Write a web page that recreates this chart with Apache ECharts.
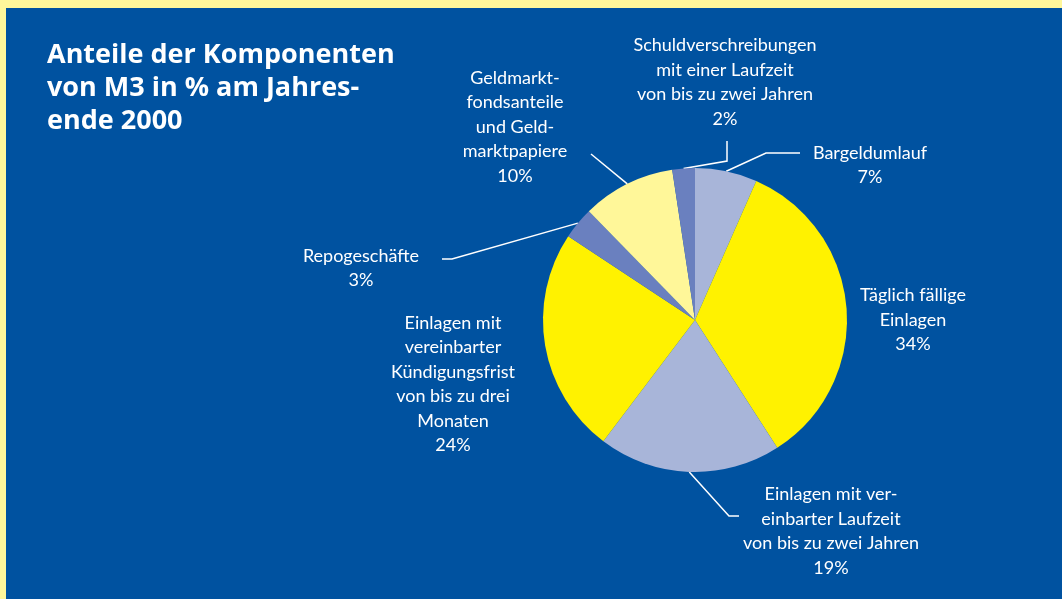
<!DOCTYPE html>
<html><head><meta charset="utf-8">
<script src="https://cdn.jsdelivr.net/npm/echarts@6/dist/echarts.min.js"></script>
<style>
html,body{margin:0;padding:0;width:1062px;height:599px;overflow:hidden;background:#0052A0;}
#c{position:absolute;left:0;top:0;width:1062px;height:599px;}
.s{position:absolute;background:#FFF79B;z-index:5;}
</style></head><body>
<div id="c"></div>
<div class="s" style="left:0;top:0;width:1062px;height:8px"></div>
<div class="s" style="left:0;top:0;width:6px;height:599px"></div>
<script>
const categories = [
  'Bargeldumlauf',
  'Täglich fällige\nEinlagen',
  'Einlagen mit ver-\neinbarter Laufzeit\nvon bis zu zwei Jahren',
  'Einlagen mit\nvereinbarter\nKündigungsfrist\nvon bis zu drei\nMonaten',
  'Repogeschäfte',
  'Geldmarkt-\nfondsanteile\nund Geld-\nmarktpapiere',
  'Schuldverschreibungen\nmit einer Laufzeit\nvon bis zu zwei Jahren'
];
const values = [6.6, 34.3, 19.4, 24.0, 3.4, 9.9, 2.4];
const titleText = 'Anteile der Komponenten\nvon M3 in % am Jahres-\nende 2000';

const colors = ['#A8B5D9', '#FFF200', '#A8B5D9', '#FFF200', '#6A80BF', '#FFF799', '#6A80BF'];
// label layout (x, y center, and bend points of the leader line)
const layout = [
  {x: 870, y: 165, pts: [[766,153],[800,153]]},
  {x: 913, y: 320, pts: null},
  {x: 831, y: 531, pts: [[729,516],[739,516]]},
  {x: 453, y: 384, pts: null},
  {x: 361, y: 268, pts: [[452,259],[442,259]]},
  {x: 515, y: 127, pts: [[591,154]]},
  {x: 725, y: 82, pts: [[727,161],[727,141]]}
];

const chart = echarts.init(document.getElementById('c'));
chart.setOption({
  backgroundColor: 'transparent',
  title: {
    text: titleText,
    left: 42, top: 34,
    textStyle: {color: '#fff', fontFamily: 'Open Sans', fontWeight: 'bold', fontSize: 27, lineHeight: 33}
  },
  series: [{
    type: 'pie',
    center: [695, 320],
    radius: 152,
    startAngle: 90,
    clockwise: true,
    avoidLabelOverlap: false,
    animation: false,
    emphasis: {disabled: true},
    itemStyle: {borderWidth: 0},
    data: categories.map((n, i) => ({
      name: n, value: values[i],
      itemStyle: {color: colors[i]},
      labelLine: {show: !!layout[i].pts}
    })),
    label: {
      show: true, position: 'outside',
      color: '#fff', fontFamily: 'Lato', fontSize: 18, lineHeight: 24.5,
      align: 'center',
      formatter: p => p.name + '\n' + Math.round(p.value) + '%'
    },
    labelLine: {show: true, lineStyle: {color: '#fff', width: 1.5}},
    labelLayout: function (params) {
      const L = layout[params.dataIndex];
      const o = {x: L.x, y: L.y, align: 'center', verticalAlign: 'middle'};
      if (L.pts && params.labelLinePoints) {
        o.labelLinePoints = [params.labelLinePoints[0]].concat(L.pts);
      }
      return o;
    }
  }]
});
</script>
</body></html>
